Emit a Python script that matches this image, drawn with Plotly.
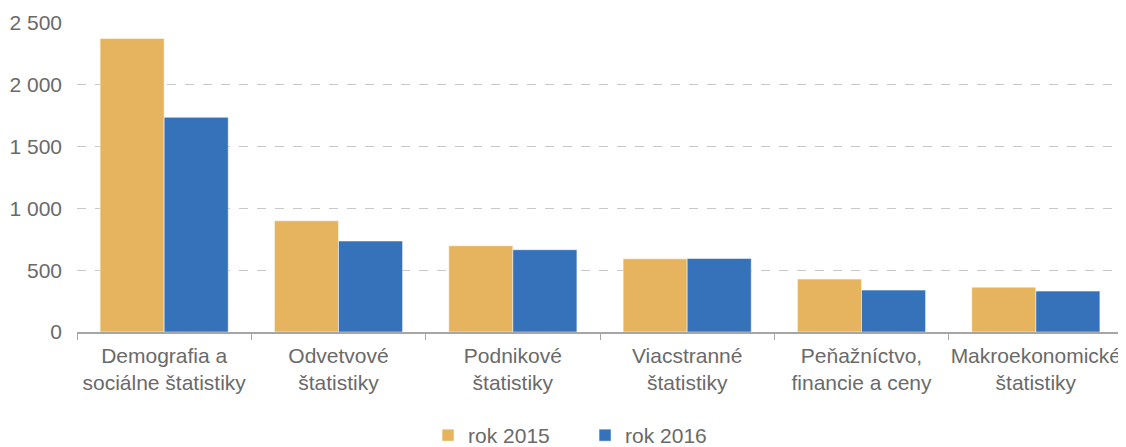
import plotly.graph_objects as go

categories = ["Demografia a<br>sociálne štatistiky", "Odvetvové<br>štatistiky", "Podnikové<br>štatistiky",
              "Viacstranné<br>štatistiky", "Peňažníctvo,<br>financie a ceny", "Makroekonomické<br>štatistiky"]
rok_2015 = [2375, 900, 698, 592, 428, 363]
rok_2016 = [1737, 736, 666, 595, 339, 331]
y_ticks = [0, 500, 1000, 1500, 2000, 2500]

text_color = "#6a6a6a"
fig = go.Figure()
fig.add_trace(go.Bar(name="rok 2015", x=categories, y=rok_2015,
                     marker=dict(color="#E6B45E", line=dict(color="rgba(255,255,255,0.5)", width=1))))
fig.add_trace(go.Bar(name="rok 2016", x=categories, y=rok_2016,
                     marker=dict(color="#3572B9", line=dict(color="rgba(255,255,255,0.5)", width=1))))

# page body has an 8px default margin, so the figure is sized to fit the 1126x447 window
fig.update_layout(
    width=1118, height=439,
    margin=dict(l=69, r=3, t=15, b=115),
    paper_bgcolor="white", plot_bgcolor="white",
    barmode="group", bargap=0.265, bargroupgap=0,
    separators=", ",
    font=dict(family="Liberation Sans, Arial, sans-serif", size=21, color=text_color),
    showlegend=True,
    legend=dict(orientation="h", x=0.4857, xanchor="center", yref="container", y=0, yanchor="bottom",
                font=dict(size=21, color=text_color), entrywidth=112, itemwidth=30,
                traceorder="normal"),
)
fig.update_xaxes(showline=True, linecolor="#A6A6A6", linewidth=1.5, automargin=False,
                 ticks="outside", tickson="boundaries", ticklen=6, tickcolor="#A6A6A6",
                 ticklabelstandoff=4, tickangle=0,
                 showgrid=False, tickfont=dict(size=21, color=text_color))
fig.update_yaxes(range=[0, 2500], tickvals=y_ticks, separatethousands=True, tickformat=",d",
                 showgrid=True, gridcolor="#C8C8C8", griddash="dash", gridwidth=1,
                 zeroline=False, showline=False, ticks="", ticklabelstandoff=14, automargin=False,
                 tickfont=dict(size=21, color=text_color))

# nudge the legend contents down to sit close to the bottom edge as in the reference
post = ("var s=document.createElement('style');"
        "s.textContent='.legend .scrollbox{transform:translateY(9px)}';"
        "document.head.appendChild(s);")
fig.write_html("out.html", post_script=post)
